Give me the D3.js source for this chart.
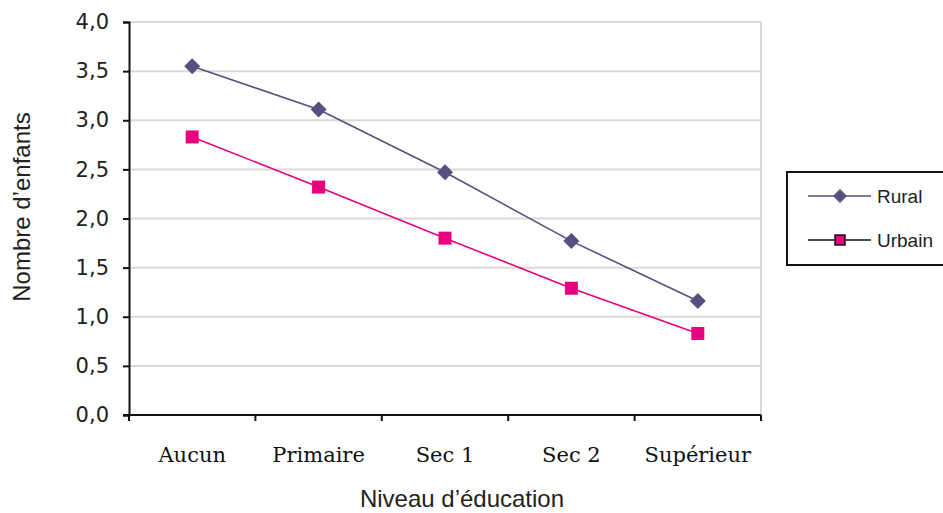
<!DOCTYPE html>
<html>
<head>
<meta charset="utf-8">
<script src="https://cdn.jsdelivr.net/npm/d3@7"></script>
<style>
  html, body { margin: 0; padding: 0; background: #fff; }
  svg { display: block; }
</style>
</head>
<body>
<svg id="chart" width="943" height="513"></svg>
<script>
// Average number of children by education level, rural vs urban
const categories = ["Aucun", "Primaire", "Sec 1", "Sec 2", "Supérieur"];
const rural = [3.55, 3.11, 2.47, 1.77, 1.16];
const urbain = [2.83, 2.32, 1.80, 1.29, 0.83];
const yTicks = [0, 0.5, 1, 1.5, 2, 2.5, 3, 3.5, 4];
const seriesNames = ["Rural", "Urbain"];

const colors = { Rural: "#55507f", Urbain: "#e8007f" };

const svg = d3.select("#chart");
const margin = { left: 129, right: 182, top: 22, bottom: 98 };
const W = 943, H = 513;
const x0 = margin.left, x1 = W - margin.right;
const y0 = H - margin.bottom, y1 = margin.top;

const x = d3.scaleBand().domain(categories).range([x0, x1]);
const y = d3.scaleLinear().domain([0, 4]).range([y0, y1]);
const cx = c => x(c) + x.bandwidth() / 2;

// rotated-square marker
const diamondPath = r => `M0,${-r}L${r},0L0,${r}L${-r},0Z`;

// gridlines
svg.append("g")
  .selectAll("line")
  .data(yTicks.filter(d => d > 0))
  .join("line")
  .attr("x1", x0).attr("x2", x1)
  .attr("y1", d => y(d)).attr("y2", d => y(d))
  .attr("stroke", "#ddd8d4").attr("stroke-width", 2);

// right border of plot area
svg.append("line")
  .attr("x1", x1).attr("x2", x1).attr("y1", y1).attr("y2", y0)
  .attr("stroke", "#ddd8d4").attr("stroke-width", 2);

// y axis
const yAxis = d3.axisLeft(y).tickValues(yTicks).tickSize(6).tickPadding(14)
  .tickFormat(d => d3.format(".1f")(d).replace(".", ","));
const gy = svg.append("g").attr("transform", `translate(${x0},0)`).call(yAxis);
gy.select(".domain").attr("stroke", "#111").attr("stroke-width", 2);
gy.selectAll(".tick line").attr("stroke", "#111").attr("stroke-width", 2);
gy.selectAll(".tick text")
  .attr("font-family", "DejaVu Sans").attr("font-size", 21).attr("fill", "#222");

// x axis: ticks on category boundaries
const gx = svg.append("g").attr("transform", `translate(0,${y0})`);
gx.append("line").attr("x1", x0 - 6).attr("x2", x1).attr("y1", 0).attr("y2", 0)
  .attr("stroke", "#111").attr("stroke-width", 2);
const bounds = categories.map(c => x(c)).concat([x1]);
gx.selectAll("line.tk").data(bounds).join("line").attr("class", "tk")
  .attr("x1", d => d).attr("x2", d => d).attr("y1", 0).attr("y2", 6)
  .attr("stroke", "#111").attr("stroke-width", 2);
gx.selectAll("text").data(categories).join("text")
  .attr("x", d => cx(d))
  .attr("y", 47)
  .attr("text-anchor", "middle")
  .attr("font-family", "DejaVu Serif").attr("font-size", 21).attr("fill", "#111")
  .text(d => d);

// axis titles
svg.append("text")
  .attr("x", 462).attr("y", 507)
  .attr("text-anchor", "middle")
  .attr("font-family", "Liberation Sans, Arial").attr("font-size", 24).attr("fill", "#222")
  .text("Niveau d’éducation");
svg.append("text")
  .attr("transform", `translate(30,207) rotate(-90)`)
  .attr("text-anchor", "middle")
  .attr("font-family", "Liberation Sans, Arial").attr("font-size", 24).attr("fill", "#222")
  .text("Nombre d’enfants");

// series
const line = d3.line().x((d, i) => cx(categories[i])).y(d => y(d));

svg.append("path").datum(rural).attr("d", line)
  .attr("fill", "none").attr("stroke", colors.Rural).attr("stroke-width", 1.6);
svg.append("path").datum(urbain).attr("d", line)
  .attr("fill", "none").attr("stroke", colors.Urbain).attr("stroke-width", 1.6);

svg.append("g").selectAll("path").data(rural).join("path")
  .attr("transform", (d, i) => `translate(${cx(categories[i])},${y(d)})`)
  .attr("d", diamondPath(8)).attr("fill", colors.Rural);
const sq = 13;
svg.append("g").selectAll("rect").data(urbain).join("rect")
  .attr("x", (d, i) => cx(categories[i]) - sq / 2)
  .attr("y", d => y(d) - sq / 2)
  .attr("width", sq).attr("height", sq)
  .attr("fill", colors.Urbain);

// legend
const lg = svg.append("g");
lg.append("rect").attr("x", 787).attr("y", 172).attr("width", 170).attr("height", 93)
  .attr("fill", "#fff").attr("stroke", "#111").attr("stroke-width", 2);
const items = [
  { name: seriesNames[0], y: 196 },
  { name: seriesNames[1], y: 240 }
];
items.forEach(it => {
  const c = it.name === "Rural" ? colors.Rural : "#111";
  lg.append("line").attr("x1", 808).attr("x2", 871).attr("y1", it.y).attr("y2", it.y)
    .attr("stroke", c).attr("stroke-width", 1.6);
  if (it.name === "Rural") {
    lg.append("path").attr("transform", `translate(840,${it.y})`)
      .attr("d", diamondPath(7)).attr("fill", colors.Rural);
  } else {
    lg.append("rect").attr("x", 835).attr("y", it.y - 5).attr("width", 10).attr("height", 10)
      .attr("fill", colors.Urbain).attr("stroke", "#111").attr("stroke-width", 1.5);
  }
  lg.append("text").attr("x", 877).attr("y", it.y + 7)
    .attr("font-family", "Liberation Sans, Arial").attr("font-size", 19).attr("fill", "#222")
    .text(it.name);
});
</script>
</body>
</html>
